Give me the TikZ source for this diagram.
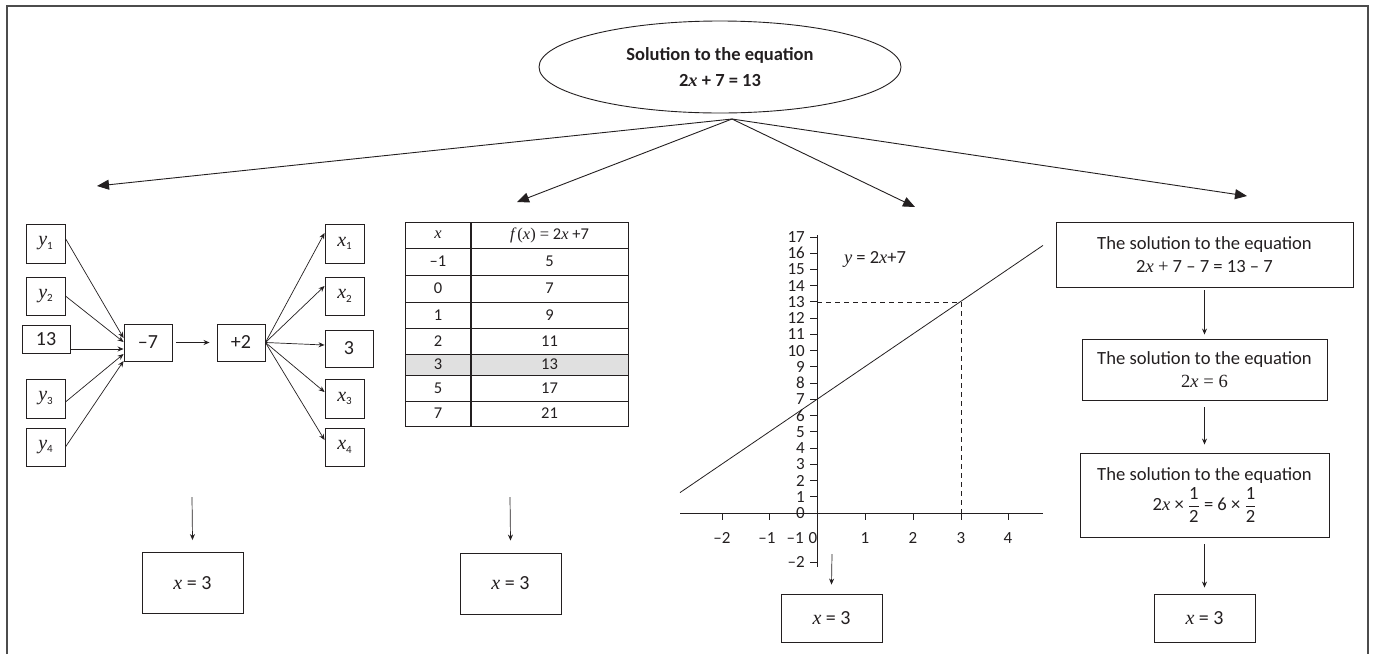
\documentclass[tikz,border=0pt]{standalone}
\usepackage{fontspec}
\setmainfont{Carlito}
\newfontfamily\tms{Liberation Serif}
\usetikzlibrary{arrows.meta,calc,shapes.geometric}
\newcommand\vv[1]{{\tms\itshape #1}}
\newcommand\sub[2]{\vv{#1}\raisebox{-3.5pt}{\fontsize{11}{11}\selectfont #2}}
\definecolor{ink}{HTML}{231F20}
\begin{document}
\begin{tikzpicture}[x=1pt,y=-1pt, color=ink,
  box/.style={draw, line width=0.9pt, inner sep=0pt, align=center},
  sarr/.style={-{Stealth[length=6pt,width=5pt]}, line width=0.7pt},
  barr/.style={-{Triangle[length=12pt,width=10pt]}, line width=0.9pt},
  fl/.style={font=\fontsize{20}{23}\selectfont},
  ft/.style={font=\fontsize{16.5}{19}\selectfont},
  fg/.style={font=\fontsize{17}{19}\selectfont, inner sep=0pt},
  fx/.style={font=\fontsize{20}{23}\selectfont},
  fr/.style={font=\fontsize{18.6}{22.5}\selectfont}]
\useasboundingbox (0,0) rectangle (1373,654);
\draw[line width=2pt, draw=black!70] (7,654) -- (7,6) -- (1368,6) -- (1368,654);

% top ellipse
\node[ellipse, draw, line width=0.9pt, minimum width=362pt, minimum height=92pt, inner sep=0pt, align=center,
  font=\bfseries\fontsize{18.5}{26}\selectfont] (top) at (720,67) {Solution to the equation\\2{\tms\itshape x} + 7 = 13};
\coordinate (hub) at (732,119);
\coordinate (t1) at (97,186);
\coordinate (t2) at (517,202);
\coordinate (t3) at (915,207);
\coordinate (t4) at (1247,196);
\foreach \t in {t1,t2,t3,t4} \draw[barr] (hub) -- (\t);

% left section
\begin{scope}[every node/.style={box, fl}]
\node[minimum width=39pt, minimum height=39pt] (y1) at (45.5,243.5) {\sub{y}{1}};
\node[minimum width=39pt, minimum height=38pt] (y2) at (45.5,296) {\sub{y}{2}};
\node[minimum width=48pt, minimum height=28pt] (n13) at (46,339) {13};
\node[minimum width=39pt, minimum height=39pt] (y3) at (45.5,398.5) {\sub{y}{3}};
\node[minimum width=39pt, minimum height=38pt] (y4) at (45.5,447) {\sub{y}{4}};
\node[minimum width=48pt, minimum height=37pt] (m7) at (148,342.5) {–7};
\node[minimum width=48pt, minimum height=37pt] (p2) at (241,342.5) {+2};
\node[minimum width=39pt, minimum height=39pt] (x1) at (344.5,243.5) {\sub{x}{1}};
\node[minimum width=39pt, minimum height=38pt] (x2) at (344.5,296) {\sub{x}{2}};
\node[minimum width=48pt, minimum height=37pt] (three) at (349,348.5) {3};
\node[minimum width=39pt, minimum height=39pt] (x3) at (344.5,398.5) {\sub{x}{3}};
\node[minimum width=39pt, minimum height=38pt] (x4) at (344.5,447) {\sub{x}{4}};
\end{scope}
\draw[sarr] ($(y1.east)+(0,-5)$) -- ($(m7.west)+(0,-4.5)$);
\draw[sarr] (y2.east) -- ($(m7.west)+(0,-0.5)$);
\draw[sarr] ($(n13.east)+(0,10)$) -- ($(m7.west)+(0,6.5)$);
\draw[sarr] ($(y3.east)+(0,3.5)$) -- ($(m7.west)+(0,11.5)$);
\draw[sarr] (y4.east) -- ($(m7.west)+(0,18.5)$);
\draw[sarr, shorten <=4pt, shorten >=7pt] (m7) -- (p2);
\draw[sarr] (p2.east) -- ($(x1.west)+(0,-10.5)$);
\draw[sarr] (p2.east) -- ($(x2.west)+(0,-10)$);
\draw[sarr] (p2.east) -- ($(three.west)+(0,-3.5)$);
\draw[sarr] (p2.east) -- ($(x3.west)+(0,-6.5)$);
\draw[sarr] (p2.east) -- ($(x4.west)+(0,-7)$);
\coordinate (s1) at (192,497);
\node[box, fx, minimum width=101pt, minimum height=61pt] (r1) at (192.5,583) {\vv{x} = 3};
\draw[sarr] (s1) -- ([yshift=12pt]r1.north);

% table
\fill[black!12] (405,354) rectangle (628,375);
\draw[line width=1pt] (405,222) rectangle (628,426);
\draw[line width=1.3pt] (471,222) -- (471,426);
\foreach \y in {248,275,302,328,354,375,401} \draw[line width=1pt] (405,\y) -- (628,\y);
\node[ft] (th1) at (438,235) {\vv{x}};
\node[ft] (th2) at (549.5,235) {\vv{f}{\tms\,(}\vv{x}{\tms) =} 2\vv{x} +7};
\foreach \a/\b/\y [count=\i] in {–1/5/261.5, 0/7/288.5, 1/9/315, 2/11/341, 3/13/364.5, 5/17/388, 7/21/413.5} {
  \node[ft] (ta\i) at (438,\y) {\a};
  \node[ft] (tb\i) at (549.5,\y) {\b};
}
\coordinate (s2) at (510,497);
\node[box, fx, minimum width=101pt, minimum height=61pt] (r2) at (510.5,583.5) {\vv{x} = 3};
\draw[sarr] (s2) -- ([yshift=12pt]r2.north);

% graph
\draw[line width=0.8pt] (680,513) -- (1043,513);
\draw[line width=0.8pt] (817,235) -- (817,567);
\foreach \k in {0,...,17} {
  \draw[line width=0.8pt] (810,{513-16.24*\k}) -- (817,{513-16.24*\k});
  \node[fg, anchor=east] (yl\k) at (805,{513-16.24*\k}) {\k};
}
\draw[line width=0.8pt] (810,562) -- (817,562);
\node[fg, anchor=east] (ylm2) at (805,562) {–2};
\node[fg, anchor=east] (ylm1) at (804,538) {–1};
\node[fg] (xl0) at (813,538) {0};
\foreach \v/\p in {m2/722, m1/769, 1/865, 2/913, 3/961, 4/1008}
  \draw[line width=0.8pt] (\p,513) -- (\p,520);
\foreach \v/\p/\t in {m2/722/–2, m1/767/–1, 1/865/1, 2/913/2, 3/961/3, 4/1008/4}
  \node[fg] (xl\v) at (\p,538) {\t};
\draw[line width=0.8pt] (680,492.6) -- (1043,245.4);
\draw[line width=0.8pt, dash pattern=on 5pt off 4pt] (817,302) -- (961,302) -- (961,513);
\node[fg, font=\fontsize{18.5}{20}\selectfont] (eq) at (875,259) {\vv{y} = 2\vv{x}+7};
\coordinate (s3) at (832,554);
\node[box, fx, minimum width=101pt, minimum height=48pt] (r3) at (831.5,618) {\vv{x} = 3};
\draw[sarr] (s3) -- ([yshift=9pt]r3.north);

% right column
\node[box, fr, minimum width=297pt, minimum height=65pt] (b1) at (1204.5,254.5)
  {The solution to the equation\\2\vv{x} {\tms +} 7 – 7 = 13 – 7};
\node[box, fr, minimum width=245pt, minimum height=61pt] (b2) at (1204.5,369.5)
  {The solution to the equation\\{\tms 2\textit{x} = 6}};
\node[box, fr, minimum width=249pt, minimum height=84pt] (b3) at (1204.5,495)
  {The solution to the equation\\[3pt]2\vv{x} × $\displaystyle\frac{\mbox{1}}{\mbox{2}}$ = 6 × $\displaystyle\frac{\mbox{1}}{\mbox{2}}$};
\node[box, fx, minimum width=101pt, minimum height=48pt] (b4) at (1204.5,618) {\vv{x} = 3};
\draw[sarr, shorten <=3pt, shorten >=4pt] (b1.south) -- (b2.north);
\draw[sarr, shorten <=7pt, shorten >=8pt] (b2.south) -- (b3.north);
\draw[sarr, shorten <=7pt, shorten >=6pt] (b3.south) -- (b4.north);
\end{tikzpicture}
\end{document}
